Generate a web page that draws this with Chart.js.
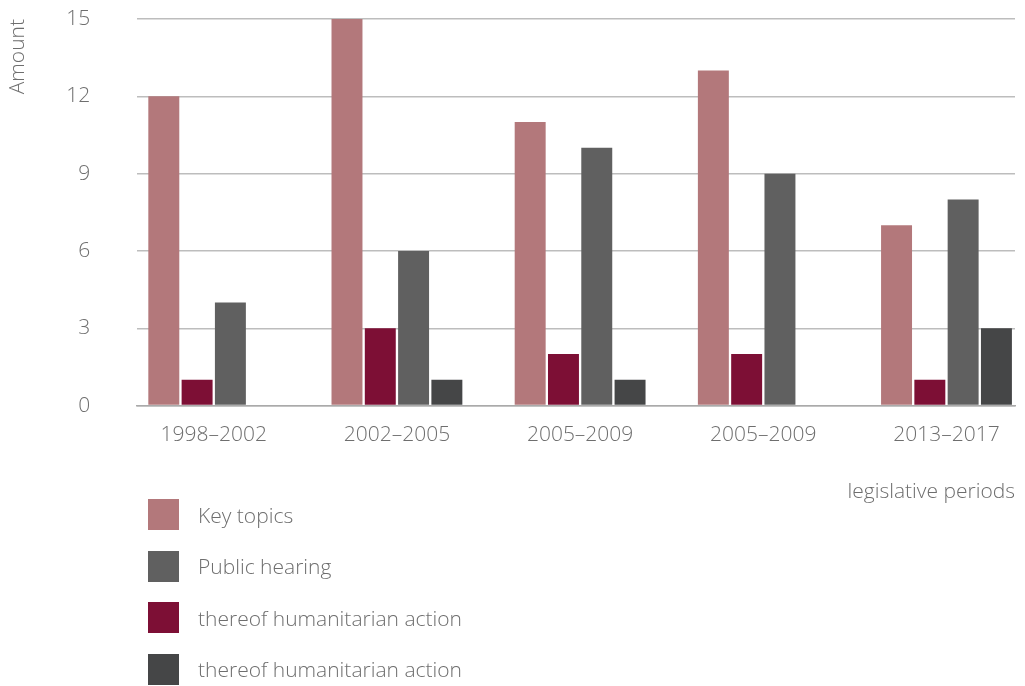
<!DOCTYPE html>
<html>
<head>
<meta charset="utf-8">
<script src="https://cdn.jsdelivr.net/npm/chart.js@4"></script>
<style>
  body { margin: 0; background: #fff; font-family: "Open Sans", sans-serif; font-weight: 300; }
  #wrap { position: relative; width: 1025px; height: 686px; }
  #legend { position: absolute; left: 148px; top: 499px; }
  .item { height: 31px; margin-bottom: 20.5px; display: flex; align-items: center; color: #6e6e6e; font-size: 21px; }
  .box { width: 31px; height: 31px; margin-right: 19px; }
</style>
</head>
<body>
<div id="wrap">
  <canvas id="chart" width="1025" height="686"></canvas>
  <div id="legend"></div>
</div>
<script>
var periods = ["1998–2002", "2002–2005", "2005–2009", "2005–2009", "2013–2017"];
var keyTopics = [12, 15, 11, 13, 7];
var keyHumanitarian = [1, 3, 2, 2, 1];
var publicHearing = [4, 6, 10, 9, 8];
var hearingHumanitarian = [0, 1, 1, 0, 3];
var yTicks = [0, 3, 6, 9, 12, 15];

var textColor = '#6e6e6e';
var font = { family: '"Open Sans", sans-serif', size: 21, weight: 300 };

function points(values) {
    return values.map(function (v, i) { return { x: i, y: v }; });
}

var datasets = [{
    label: "Key topics",
    backgroundColor: '#b3787b',
    data: points(keyTopics),
}, {
    label: "thereof humanitarian action",
    backgroundColor: '#7d0f35',
    data: points(keyHumanitarian),
}, {
    label: "Public hearing",
    backgroundColor: '#606060',
    data: points(publicHearing),
}, {
    label: "thereof humanitarian action",
    backgroundColor: '#454647',
    data: points(hearingHumanitarian),
}];

// legend shows the datasets in a different order than the bars
var legendOrder = [0, 2, 1, 3];

var ctx = document.getElementById('chart').getContext('2d');
var chart = new Chart(ctx, {
    type: 'bar',
    data: { datasets: datasets },
    options: {
        responsive: false,
        animation: false,
        categoryPercentage: 0.727,
        barPercentage: 0.93,
        layout: { padding: { left: 5, right: 10, top: 19, bottom: 181 } },
        plugins: { legend: { display: false }, tooltip: { enabled: false } },
        scales: {
            x: {
                type: 'linear',
                offset: false,
                min: -0.418,
                max: 4.374,
                afterBuildTicks: function (scale) {
                    scale.ticks = periods.map(function (p, i) { return { value: i }; });
                },
                grid: { display: true, drawOnChartArea: false, drawTicks: true, tickLength: 17, tickColor: 'rgba(0,0,0,0)' },
                border: { display: true, color: '#aaaaaa', width: 1.5 },
                ticks: {
                    autoSkip: false,
                    maxRotation: 0,
                    padding: 0,
                    color: textColor,
                    font: font,
                    callback: function (v) { return periods[v]; }
                },
                title: {
                    display: true,
                    text: 'legislative periods',
                    align: 'end',
                    color: textColor,
                    font: font,
                    padding: { top: 32, bottom: 0 }
                }
            },
            y: {
                min: 0,
                max: 15,
                afterBuildTicks: function (scale) {
                    scale.ticks = yTicks.map(function (v) { return { value: v }; });
                },
                grid: { color: '#bdbdbd', lineWidth: 1.5, drawTicks: true, tickLength: 47, tickColor: 'rgba(0,0,0,0)' },
                border: { display: false },
                ticks: { padding: 0, color: textColor, font: font },
                title: {
                    display: true,
                    text: 'Amount',
                    align: 'end',
                    color: textColor,
                    font: font,
                    padding: { top: 0, bottom: 36 }
                }
            }
        }
    }
});

var legend = document.getElementById('legend');
legendOrder.forEach(function (i) {
    var ds = datasets[i];
    var item = document.createElement('div');
    item.className = 'item';
    item.innerHTML = '<div class="box" style="background:' + ds.backgroundColor + '"></div><span>' + ds.label + '</span>';
    legend.appendChild(item);
});
</script>
</body>
</html>
